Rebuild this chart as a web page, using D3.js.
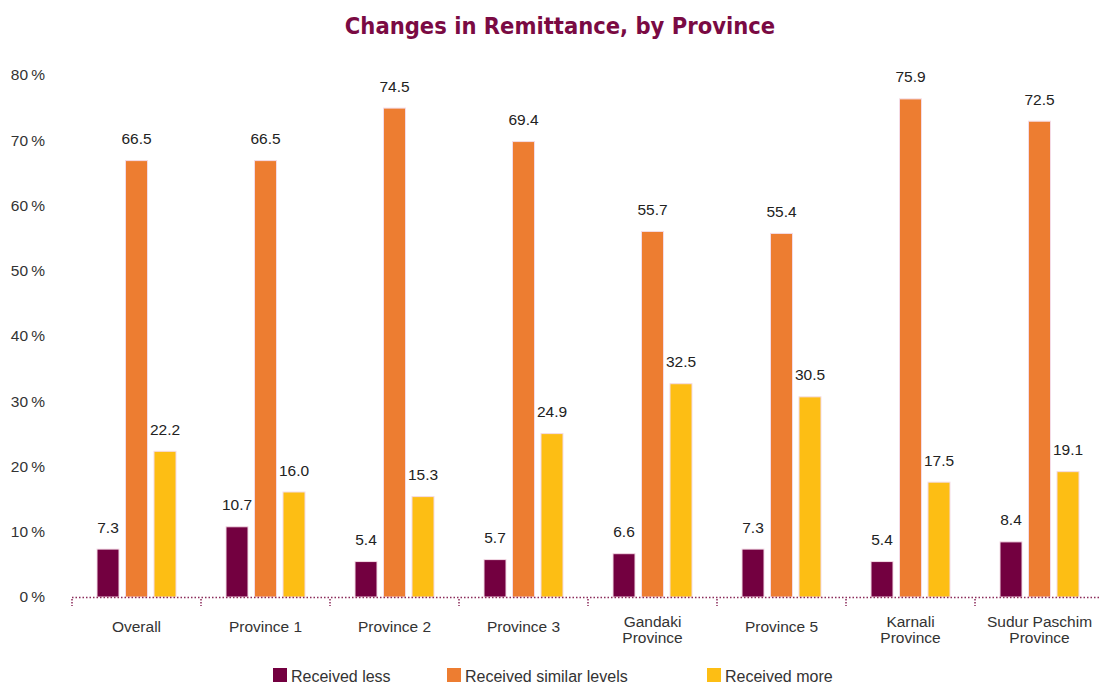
<!DOCTYPE html>
<html><head><meta charset="utf-8">
<script src="https://cdn.jsdelivr.net/npm/d3@7"></script>
<style>body{margin:0;background:#fff;} svg{display:block;}</style>
</head><body><svg id="c" width="1099" height="684"></svg>
<script>
const categories = ["Overall","Province 1","Province 2","Province 3","Gandaki Province","Province 5","Karnali Province","Sudur Paschim Province"];
const categoryLines = [["Overall"],["Province 1"],["Province 2"],["Province 3"],["Gandaki","Province"],["Province 5"],["Karnali","Province"],["Sudur Paschim","Province"]];
const seriesNames = ["Received less","Received similar levels","Received more"];
const receivedLess = [7.3,10.7,5.4,5.7,6.6,7.3,5.4,8.4];
const receivedSimilar = [66.5,66.5,74.5,69.4,55.7,55.4,75.9,72.5];
const receivedMore = [22.2,16.0,15.3,24.9,32.5,30.5,17.5,19.1];
const yTicks = [0,10,20,30,40,50,60,70,80];
const colors = ["#730040","#ED7D31","#FDBE14"];

const series = [receivedLess, receivedSimilar, receivedMore];
const svg = d3.select("#c");
const font = "'Liberation Sans', Arial, sans-serif";

const x = d3.scaleBand().domain(categories).range([72, 1104]).padding(0);
const y = d3.scaleLinear().domain([0,80]).range([597, 72]);
const yLabel = d3.scaleLinear().domain([0,80]).range([597, 75]);
const inner = d3.scaleBand().domain(seriesNames).range([25, 104]).paddingInner(0.228).paddingOuter(0);

svg.append("text").attr("x", 560).attr("y", 34).attr("text-anchor","middle")
  .attr("font-family","'DejaVu Sans Condensed', 'DejaVu Sans', sans-serif").attr("font-weight","bold")
  .attr("font-size", 23.5).attr("fill","#7A0A43").text("Changes in Remittance, by Province");

// y tick labels
svg.append("g").selectAll("text").data(yTicks).join("text")
  .attr("x", 45).attr("y", d => yLabel(d)).attr("dy","0.35em").attr("text-anchor","end")
  .attr("font-family", font).attr("font-size", 15.5).attr("fill","#333")
  .text(d => d + "\u2009%");

// bars
const groups = svg.append("g").selectAll("g").data(categories).join("g")
  .attr("transform", d => `translate(${x(d)},0)`);
groups.each(function(cat, i){
  const g = d3.select(this);
  seriesNames.forEach((s, j) => {
    const v = series[j][i];
    g.append("rect").attr("x", inner(s)).attr("y", y(v)).attr("width", inner.bandwidth())
      .attr("height", y(0) - y(v)).attr("fill", colors[j]).attr("stroke","#f4dbe6").attr("stroke-width",1);
    g.append("text").attr("x", inner(s) + inner.bandwidth()/2).attr("y", y(v) - 16.5)
      .attr("text-anchor","middle").attr("font-family", font).attr("font-size", 15.5).attr("fill","#222")
      .text(v.toFixed(1));
  });
});

// axis dotted line
svg.append("line").attr("x1", 72).attr("x2", 1099).attr("y1", 597.5).attr("y2", 597.5)
  .attr("stroke","#8a2a5a").attr("stroke-width",1.5).attr("stroke-dasharray","1.5,2");
// boundary ticks
svg.append("g").selectAll("line").data(categories).join("line")
  .attr("x1", d => x(d)).attr("x2", d => x(d)).attr("y1", 599).attr("y2", 606)
  .attr("stroke","#8a2a5a").attr("stroke-width",1.5).attr("stroke-dasharray","1.5,1.5");

// x labels
const xl = svg.append("g").selectAll("text").data(categories).join("text")
  .attr("x", d => x(d) + x.bandwidth()/2).attr("text-anchor","middle")
  .attr("font-family", font).attr("font-size", 15.5).attr("fill","#333")
  .attr("y", (d,i) => categoryLines[i].length > 1 ? 627 : 632);
xl.each(function(d,i){
  const t = d3.select(this);
  categoryLines[i].forEach((ln,k) => t.append("tspan").attr("x", x(d) + x.bandwidth()/2).attr("dy", k ? 16 : 0).text(ln));
});

// legend
const legendX = [273, 447, 707];
const lg = svg.append("g").selectAll("g").data(seriesNames).join("g")
  .attr("transform",(d,i)=>`translate(${legendX[i]},668)`);
lg.append("rect").attr("width",14).attr("height",14).attr("fill",(d,i)=>colors[i]);
lg.append("text").attr("x",18).attr("y",8).attr("dy","0.35em").attr("font-family",font).attr("font-size",16).attr("fill","#333").text(d=>d);
</script></body></html>
